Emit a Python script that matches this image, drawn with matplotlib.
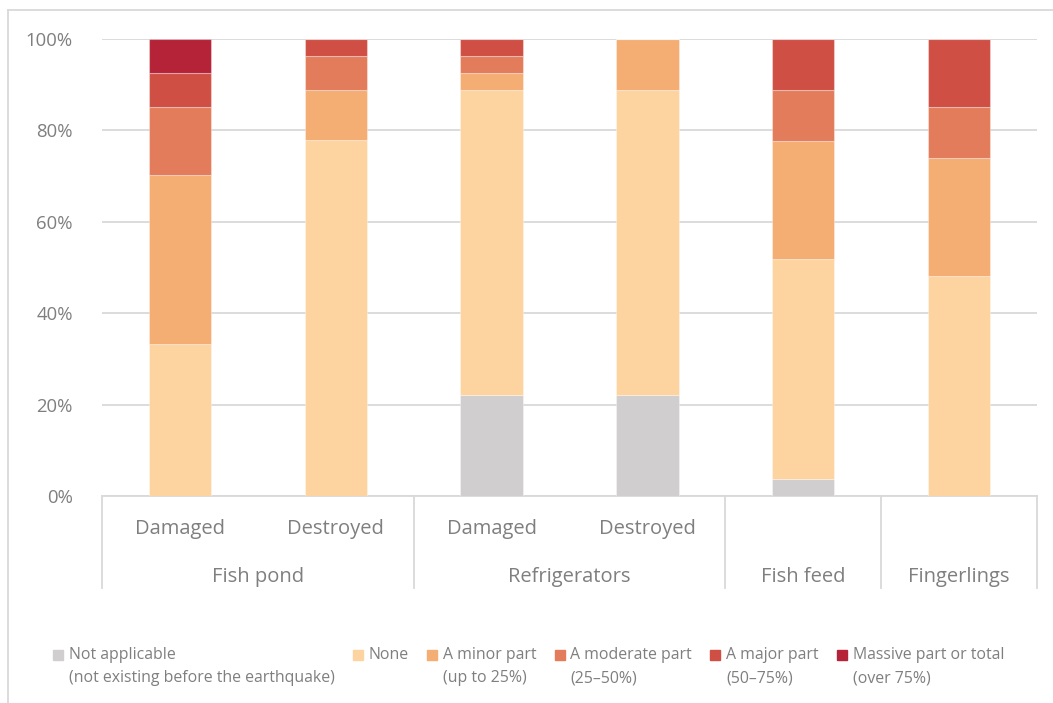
import matplotlib.pyplot as plt
from matplotlib.lines import Line2D
from matplotlib.patches import Rectangle
import numpy as np

plt.rcParams['font.family'] = ['Open Sans', 'DejaVu Sans']

# Two-level category axis
sub_labels = ["Damaged", "Destroyed", "Damaged", "Destroyed", "", ""]
groups = ["Fish pond", "Refrigerators", "Fish feed", "Fingerlings"]
group_sizes = [2, 2, 1, 1]

# Share of respondents (%) per damage level
not_applicable = [0, 0, 22.2, 22.2, 3.7, 0]
none = [33.3, 77.8, 66.7, 66.7, 48.1, 48.1]
minor = [37.0, 11.1, 3.7, 11.1, 25.9, 25.9]
moderate = [14.8, 7.4, 3.7, 0, 11.1, 11.1]
major = [7.4, 3.7, 3.7, 0, 11.1, 14.8]
massive = [7.4, 0, 0, 0, 0, 0]

series = [not_applicable, none, minor, moderate, major, massive]
legend_labels = ["Not applicable\n(not existing before the earthquake)", "None",
                 "A minor part\n(up to 25%)", "A moderate part\n(25\u201350%)",
                 "A major part\n(50\u201375%)", "Massive part or total\n(over 75%)"]
colors = ["#D0CECE", "#FDD4A0", "#F4AD72", "#E37C5A", "#CF4F44", "#B52339"]

text_color = "#7F7F7F"
line_color = "#D9D9D9"

W, H = 1053, 703
fig = plt.figure(figsize=(W / 100, H / 100), dpi=100)
ax = fig.add_axes([102 / W, 1 - 496 / H, (1037 - 102) / W, (496 - 39) / H])

x = np.arange(len(sub_labels))
bottom = np.zeros(len(x))
for vals, col in zip(series, colors):
    vals = np.array(vals, dtype=float)
    ax.bar(x, vals, width=0.4, bottom=bottom, color=col,
           edgecolor=(1, 1, 1, 0.35), linewidth=0.8, zorder=3)
    bottom += vals

ax.set_xlim(-0.5, len(x) - 0.5)
ax.set_ylim(0, 100)
ax.set_yticks(np.arange(0, 101, 20))
ax.set_yticklabels([f"{v}%" for v in range(0, 101, 20)])
ax.tick_params(axis='y', length=0, pad=21, labelsize=13.3, labelcolor=text_color)
ax.set_xticks([])
ax.grid(axis='y', color=line_color, linewidth=1.3, zorder=0)
for s in ["top", "right", "left"]:
    ax.spines[s].set_visible(False)
ax.spines["bottom"].set_color(line_color)
ax.spines["bottom"].set_linewidth(1.3)

# Category labels below the axis
trans = ax.get_xaxis_transform()
for xi, lab in zip(x, sub_labels):
    if lab:
        ax.text(xi, -33 / 457, lab, transform=trans, ha='center', va='center',
                fontsize=14.5, color=text_color)

start = -0.5
bounds = [start]
for name, n in zip(groups, group_sizes):
    ax.text(start + n / 2, -81 / 457, name, transform=trans, ha='center', va='center',
            fontsize=14.5, color=text_color)
    start += n
    bounds.append(start)

for b in bounds:
    ax.add_line(Line2D([b, b], [0, -92 / 457], transform=trans, color=line_color,
                       linewidth=1.3, clip_on=False))

# Chart frame
fig.add_artist(Line2D([8 / W, 1], [1 - 10 / H, 1 - 10 / H], color=line_color, linewidth=1.3))
fig.add_artist(Line2D([8 / W, 8 / W], [0, 1 - 10 / H], color=line_color, linewidth=1.3))

# Legend, laid out left to right
fig.canvas.draw()
renderer = fig.canvas.get_renderer()
xpos = 53
for lab, col in zip(legend_labels, colors):
    fig.add_artist(Rectangle((xpos / W, 1 - 660 / H), 10 / W, 10 / H, color=col,
                             transform=fig.transFigure))
    t = fig.text((xpos + 16) / W, 1 - 647 / H, lab, ha='left', va='top',
                 fontsize=11.4, color=text_color, linespacing=1.6)
    bb = t.get_window_extent(renderer)
    xpos = bb.x1 + 18

fig.savefig("out.png", dpi=100, facecolor="white")
